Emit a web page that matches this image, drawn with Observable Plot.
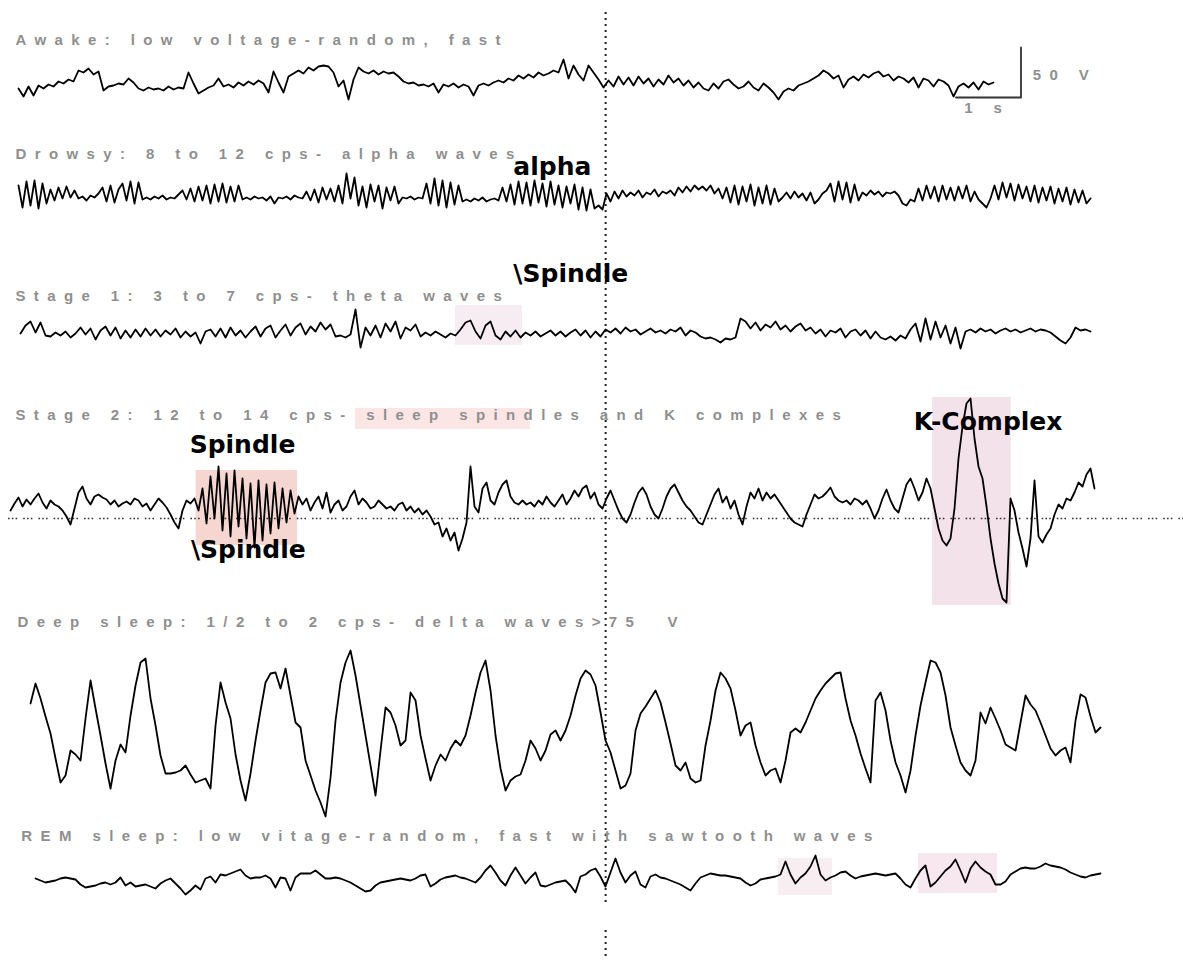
<!DOCTYPE html>
<html><head><meta charset="utf-8">
<script src="https://cdn.jsdelivr.net/npm/d3@7"></script>
<script src="https://cdn.jsdelivr.net/npm/@observablehq/plot@0.6"></script>
<style>
html,body{margin:0;padding:0;background:#fff;}
#chart svg{display:block;}
#chart g[fill="#8f8f8f"] text{letter-spacing:8.4px;white-space:pre;}
</style></head><body><div id="chart"></div>
<script>
// ---- chart geometry (paper speed) ----
const W = 1183, H = 960;
const PX_PER_S = 65;            // 1 s scale bar

// ---- stage labels ----
const stageLabels = [
  "Awake: low voltage-random, fast",
  "Drowsy: 8 to 12 cps- alpha waves",
  "Stage 1: 3 to 7 cps- theta waves",
  "Stage 2: 12 to 14 cps- sleep spindles and K complexes",
  "Deep sleep: 1/2 to 2 cps- delta waves>75  V",
  "REM sleep: low vitage-random, fast with sawtooth waves"
];

// ---- EEG samples (µV, up positive) ----
const awake = [-4,-12,-2,-11,-1,-4,0,-2,3,1,5,3,14,12,16,10,13,-6,-2,-1,1,0,6,2,-4,-6,-3,-5,-4,-6,-2,-5,-3,-4,12,1,-9,-6,-3,-1,6,-2,0,-3,2,-1,3,0,4,1,-8,13,2,-8,8,11,14,11,17,14,18,19,18,12,-2,4,-15,5,17,13,11,14,10,13,11,12,8,3,1,2,-1,0,-2,1,-8,0,-2,1,-3,0,-2,-11,-1,1,-1,2,4,2,6,4,9,6,10,7,12,9,11,14,12,25,6,19,10,4,19,12,5,-3,4,-2,8,0,7,-1,8,1,6,-2,5,0,9,2,6,-1,4,-3,2,-4,-6,1,-4,3,5,0,-4,-2,3,-3,-6,1,-3,-8,-15,-7,-4,-6,-1,1,3,6,9,14,11,6,9,-3,5,8,4,10,7,11,13,8,10,4,8,6,2,7,-3,6,4,-2,5,3,-1,-12,-2,1,-3,2,-5,3,0,2];

const drowsy = [10,-12,14,-10,15,-13,12,-8, 6,-5,8,-3,9,-2,5, -3,-1,-5,0,-2,2, 8,-6,10,-7,6, 12,-5,14,-8,13,-4, -2,-4,-1,-3,0,-4,-2,-3,1, 5,-4,7,-6,9,-5,10,-8,11,-6,12,-7,9,-6,10,-4, -2,-4,-1,-3,-2,-5,-1,-8,-2,-3,-1,-4,0,-2,-3, 4,-5,6,-7,8,-4,7,-6, 10,-8,22,-3,18,-10, 9,-12,11,-6,10,-13,8,-5,9,-8, -2,-3,-1,-4,-2,-3, 12,-8,17,-10,15,-12,13,-9,10,-6, -4,-6,-3,-5,-2,-6,-4,-3,-5, 8,-6,11,-9,14,-8,13,-10,15,-7,12,-11,14,-9,10,-12,9,-8,11,-14,8,-15,6,-13,-10, -14,2,-6,4,-3,5,-1,3, 0,5,-2,3,1,6,-1,4,2,5,0,8,3,9,4,10,6, 9,5,10,2,7,-3, 8,-7,10,-9,9,-6,11,-10,8,-8,10,-9,7,-6,-2, 3,-3,4,-2,2,-5,3,-8,-4,2,5, 12,-6,14,-4,13,-7,11,-5, 3,0,5,1,4,-1,3,2,4,0, -8,-10,-4,-6, 7,-5,10,-3,9,-6,10,-4,8,-5,9,-3,10,-6,4, -4,-8,-12,-3, 10,-4,13,-2,12,-5,11,-3,9,-6,10,-7,8,-5,9,-8,7,-6,8,-9,6,-7,5,-8, -3];

const stage1 = [0,8,12,1,11,-2,-3,1,-2,2,-4,0,6,-1,5,-6,3,7,-2,6,-5,3,-4,4,-3,5,-2,4,-3,3,-1,5,-4,2,-3,1,-10,2,4,-3,5,-4,6,-2,3,-4,2,7,-3,5,8,-4,3,9,-2,6,10,-1,7,2,11,4,9,-3,-2,-4,-1,24,-14,6,-2,8,-4,10,2,12,-5,6,3,9,-3,1,-2,2,-1,-4,0,-2,4,11,13,2,-5,8,12,-2,-6,2,-3,3,-4,1,-2,2,-3,0,3,-2,2,-3,1,4,-2,3,-4,2,-3,4,1,5,0,6,2,4,-1,2,5,1,3,0,4,2,6,-2,3,1,-3,-5,-4,-6,-9,-5,-6,-4,15,12,5,11,3,9,6,12,4,8,2,7,10,3,6,0,4,-3,3,1,5,-4,2,4,-2,3,-5,2,-4,-6,-3,-7,-2,-5,4,10,-8,15,-6,12,-4,8,-10,6,-15,2,4,1,5,2,4,0,3,5,2,4,1,3,5,2,4,3,1,-3,-7,-10,-4,6,3,4,2];

const stage2 = [8,15,21,12,19,14,20,25,16,10,18,14,12,8,2,-6,10,26,32,20,14,22,24,21,19,14,18,12,15,17,14,20,18,12,15,8,14,20,16,11,4,-4,-10,8,18,15,20,8,30,-5,42,0,52,-12,45,-18,48,-8,40,-20,35,-29,38,-22,34,-15,36,-10,30,-4,28,5,22,14,20,8,16,22,10,26,6,14,18,8,12,22,28,14,20,16,10,12,18,14,10,12,8,14,16,8,12,6,10,4,8,2,-6,-4,-18,-10,-22,-14,-32,-20,-4,52,12,6,30,36,18,14,26,34,38,22,16,14,18,14,16,12,18,14,22,16,12,18,24,14,20,28,22,30,33,20,26,14,10,20,28,18,8,0,-4,4,16,26,31,24,12,4,0,10,22,30,34,26,18,12,8,2,-4,-6,4,14,24,30,16,22,10,18,4,-6,12,26,20,30,18,26,20,24,18,12,6,0,-4,-6,-8,4,14,24,20,22,26,31,22,18,16,18,14,20,18,14,18,10,0,8,20,29,18,10,6,20,34,40,30,18,26,40,30,10,-10,-22,-27,-20,10,60,92,115,120,80,52,40,12,-20,-45,-65,-80,-84,20,8,-14,-30,-48,-20,38,-18,-24,-16,-10,4,14,10,20,18,26,36,32,44,50,30];

const deep = [27,47,32,14,-3,-28,-52,-45,-20,-24,-30,12,50,22,-5,-33,-58,-30,-14,-22,15,45,68,72,32,5,-25,-43,-43,-42,-40,-35,-44,-52,-50,-48,-58,5,48,28,12,-24,-50,-70,-43,-10,20,48,57,58,42,62,35,8,3,-30,-45,-60,-72,-86,-47,10,48,68,80,55,25,-5,-35,-65,-20,23,18,5,-15,-10,38,30,-5,-28,-50,-35,-24,-30,-18,-10,-15,-5,15,38,58,70,40,-5,-38,-60,-50,-46,-44,-30,-10,-18,-30,-20,-4,0,-10,0,15,35,52,60,56,45,18,-10,-22,-40,-58,-55,-43,0,17,24,32,40,28,8,-13,-35,-40,-32,-48,-52,-50,-15,10,40,58,52,42,20,-5,5,8,-15,-32,-45,-40,-38,-52,-30,-2,2,-2,8,20,32,40,47,52,57,58,32,10,-5,-23,-38,-52,30,38,20,-10,-32,-45,-62,-40,-5,25,48,70,68,58,35,3,-15,-32,-40,-45,-30,18,7,23,12,0,-14,-17,-20,8,35,26,20,8,-5,-18,-25,-20,-17,-32,10,36,33,14,-2,3];

const rem = [2,0,-2,-1,0,2,3,2,1,-4,-7,-6,-5,-3,-2,-4,-2,3,-5,-2,-6,-5,-4,-6,-8,-3,0,2,-3,-8,-14,-10,-5,-9,2,4,-2,6,5,7,9,11,5,2,3,3,5,2,-7,3,2,-10,3,7,7,7,10,6,2,2,3,2,0,-2,-5,-8,-11,-10,-5,-2,-1,0,1,2,1,0,2,5,6,-6,-3,1,3,4,5,3,2,0,-2,3,10,15,8,0,-5,5,13,5,-3,3,8,-5,-6,-4,-2,-1,0,-5,-12,4,6,10,12,4,-6,8,22,8,-2,5,9,-4,-7,4,6,3,2,0,-2,-4,-7,-10,-3,3,5,7,6,5,5,4,3,2,-2,-5,-3,1,2,3,4,6,19,6,-3,3,7,14,25,6,0,3,5,8,9,5,2,4,5,6,7,6,5,6,7,2,-4,-7,2,10,15,-6,-2,4,10,14,21,10,-2,12,19,13,9,6,-4,-4,-1,6,9,12,13,12,12,14,17,15,14,13,11,8,6,4,3,5,6,7];

// ---- trace layout: start time (s), sampling rate (samples/s), baseline (µV below top) ----
const traces = [
  {key: "awake",  values: awake,  start: 0.277, rate: 13,    base: 84},
  {key: "drowsy", values: drowsy, start: 0.277, rate: 16.25, base: 195},
  {key: "stage1", values: stage1, start: 0.308, rate: 13,    base: 333},
  {key: "stage2", values: stage2, start: 0.154, rate: 16.25, base: 518},
  {key: "deep",   values: deep,   start: 0.462, rate: 13,    base: 730},
  {key: "rem",    values: rem,    start: 0.538, rate: 13,    base: 880}
];
const baseOf = Object.fromEntries(traces.map(d => [d.key, d.base]));

const samples = traces.flatMap(tr => tr.values.map((v, i) => ({
  key: tr.key, t: tr.start + i / tr.rate, level: -tr.base + v
})));

// ---- highlighted regions (time span in s, µV span relative to trace baseline) ----
const highlights = [
  {trace: "stage1", t1: 7.00,  t2: 8.03,  hi: 28,  lo: -12, fill: "#f7ecf1"},
  {trace: "stage2", t1: 3.01,  t2: 4.57,  hi: 48,  lo: -27, fill: "#f6d6d1"},
  {trace: "stage2", t1: 14.34, t2: 15.55, hi: 121, lo: -87, fill: "#f3e2ea"},
  {trace: "stage2", t1: 5.46,  t2: 8.15,  hi: 110, lo: 89,  fill: "#fbe5e5"},
  {trace: "rem",    t1: 11.97, t2: 12.80, hi: 22,  lo: -15, fill: "#f8edf1"},
  {trace: "rem",    t1: 14.12, t2: 15.34, hi: 27,  lo: -13, fill: "#f6e8ee"}
].map(d => ({...d, y1: -baseOf[d.trace] + d.lo, y2: -baseOf[d.trace] + d.hi}));

// ---- text positions ----
const labelRows = [
  {text: stageLabels[0], t: 0.23, level: -40},
  {text: stageLabels[1], t: 0.23, level: -154},
  {text: stageLabels[2], t: 0.23, level: -296},
  {text: stageLabels[3], t: 0.23, level: -415},
  {text: stageLabels[4], t: 0.26, level: -622},
  {text: stageLabels[5], t: 0.32, level: -836},
  {text: "50 V", t: 15.88, level: -75}
];
const annotations = [
  {text: "alpha",     t: 7.89,  level: -166},
  {text: "\\Spindle", t: 7.89,  level: -273},
  {text: "Spindle",   t: 2.91,  level: -444},
  {text: "\\Spindle", t: 2.93,  level: -549},
  {text: "K-Complex", t: 14.05, level: -421}
];

// scale bar: 1 s by 50 µV
const barCorner = {t: 15.70, level: -97};
const scaleBar = [
  {t: barCorner.t - 1, level: barCorner.level},
  {t: barCorner.t,     level: barCorner.level},
  {t: barCorner.t,     level: barCorner.level + 50}
];

const cursorT = 9.31;
const cursor = [{y1: -12, y2: -902}, {y1: -930, y2: -960}];

const grayFont = "Liberation Sans, Arial, sans-serif";

const chart = Plot.plot({
  width: W, height: H,
  margin: 0,
  x: {domain: [0, W / PX_PER_S], range: [0, W], axis: null},
  y: {domain: [-H, 0], range: [H, 0], axis: null},
  style: {background: "#fff"},
  marks: [
    Plot.rect(highlights, {x1: "t1", x2: "t2", y1: "y1", y2: "y2", fill: "fill"}),
    Plot.ruleY([-baseOf.stage2], {x1: 8 / PX_PER_S, x2: W / PX_PER_S, stroke: "#333", strokeWidth: 1.6, strokeDasharray: "1.6,2.2,1.6,2.2,1.6,6"}),
    Plot.ruleX(cursor, {x: cursorT, y1: "y1", y2: "y2", stroke: "#222", strokeWidth: 2, strokeDasharray: "2,4"}),
    Plot.line(samples, {x: "t", y: "level", z: "key", stroke: "#000", strokeWidth: 1.8, strokeLinejoin: "round", curve: "linear"}),
    Plot.line(scaleBar, {x: "t", y: "level", stroke: "#333", strokeWidth: 1.8}),
    Plot.text(labelRows, {x: "t", y: "level", text: "text", textAnchor: "start", fontSize: 15, fontWeight: "bold", fontFamily: grayFont, fill: "#8f8f8f"}),
    Plot.text([{text: "1 s", t: 15.18, level: -108}], {x: "t", y: "level", text: "text", textAnchor: "middle", fontSize: 15, fontWeight: "bold", fontFamily: grayFont, fill: "#8f8f8f"}),
    Plot.text(annotations, {x: "t", y: "level", text: "text", textAnchor: "start", fontSize: 25, fontWeight: "bold", fontFamily: "DejaVu Sans, sans-serif", fill: "#000"})
  ]
});
document.getElementById("chart").append(chart);
</script></body></html>
